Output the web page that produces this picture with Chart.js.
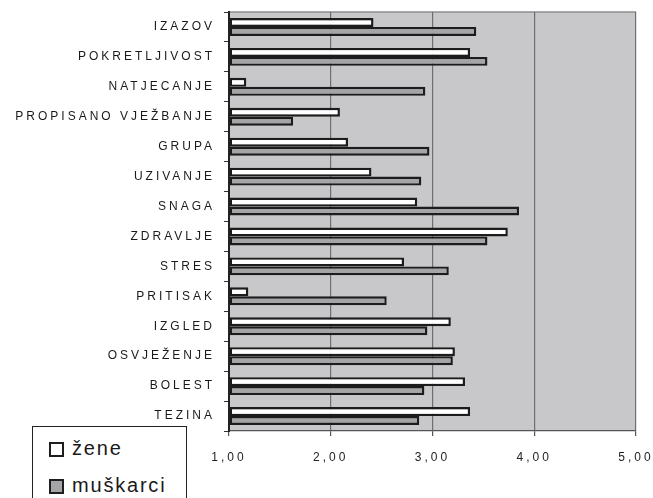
<!DOCTYPE html>
<html>
<head>
<meta charset="utf-8">
<script src="https://cdn.jsdelivr.net/npm/chart.js@4.4.1/dist/chart.umd.min.js"></script>
<style>
  html, body { margin: 0; padding: 0; background: #fff; }
  #wrap { position: relative; width: 653px; height: 498px; overflow: hidden; }
  #legend {
    position: absolute; left: 32px; top: 426px; width: 155px; height: 90px;
    border: 1.5px solid #222; box-sizing: border-box; background: #fff;
    font-family: "Liberation Sans", Arial, sans-serif; font-size: 20px; color: #1a1a1a;
    letter-spacing: 1.8px;
  }
  .item { position: absolute; left: 16px; height: 20px; line-height: 20px; white-space: nowrap; }
  .sw { position: absolute; left: 0; top: 2px; width: 15px; height: 15px; box-sizing: border-box; border: 2.5px solid #1e1e1e; }
  .lbl { position: absolute; left: 23px; top: -2px; }
</style>
</head>
<body>
<div id="wrap">
  <canvas id="c" width="653" height="498"></canvas>
  <div id="legend"></div>
</div>
<script>
const categories = ['IZAZOV', 'POKRETLJIVOST', 'NATJECANJE', 'PROPISANO VJEŽBANJE', 'GRUPA', 'UZIVANJE', 'SNAGA', 'ZDRAVLJE', 'STRES', 'PRITISAK', 'IZGLED', 'OSVJEŽENJE', 'BOLEST', 'TEZINA'];
const seriesNames = ['žene', 'muškarci'];
const zene = [2.42, 3.37, 1.17, 2.09, 2.17, 2.40, 2.85, 3.74, 2.72, 1.19, 3.18, 3.22, 3.32, 3.37];
const muskarci = [3.43, 3.54, 2.93, 1.63, 2.97, 2.89, 3.85, 3.54, 3.16, 2.55, 2.95, 3.20, 2.92, 2.87];
const xTickValues = [1, 2, 3, 4, 5];
const xTickLabels = ['1,00', '2,00', '3,00', '4,00', '5,00'];

const colors = ['#ffffff', '#a5a5a7'];

const plotBg = {
  id: 'plotBg',
  beforeDraw(chart) {
    const {ctx, chartArea: a} = chart;
    ctx.save();
    ctx.fillStyle = '#c8c8ca';
    ctx.fillRect(a.left, a.top, a.right - a.left, a.bottom - a.top);
    ctx.strokeStyle = '#8e8e90';
    ctx.lineWidth = 1.5;
    ctx.beginPath();
    ctx.moveTo(a.left, a.top);
    ctx.lineTo(a.right, a.top);
    ctx.stroke();
    ctx.restore();
    ctx.letterSpacing = '3px';
  }
};

new Chart(document.getElementById('c'), {
  type: 'bar',
  data: {
    labels: categories,
    datasets: [
      { label: seriesNames[0], data: zene, backgroundColor: colors[0] },
      { label: seriesNames[1], data: muskarci, backgroundColor: colors[1] }
    ]
  },
  options: {
    indexAxis: 'y',
    responsive: false,
    animation: false,
    devicePixelRatio: 1,
    layout: { padding: { top: 12, right: 17, left: 0, bottom: 0 } },
    datasets: {
      bar: {
        base: 1,
        borderColor: '#1c1c1c',
        borderWidth: 2.4,
        borderSkipped: false,
        categoryPercentage: 0.6,
        barPercentage: 1.0
      }
    },
    plugins: { legend: { display: false }, tooltip: { enabled: false } },
    scales: {
      x: {
        min: 1, max: 5,
        afterBuildTicks(scale) { scale.ticks = xTickValues.map(v => ({ value: v })); },
        afterFit(scale) { scale.height = 67; scale.paddingLeft = 0; scale.paddingRight = 0; },
        ticks: {
          callback: (v) => xTickLabels[xTickValues.indexOf(v)],
          color: '#222', padding: 14,
          font: { family: 'Liberation Sans', size: 12 }
        },
        grid: {
          color: (c) => (c.tick && c.tick.value === 1) ? '#2a2a2a' : '#6e6e70',
          lineWidth: 1.2,
          drawTicks: true, tickLength: 5, tickColor: '#555'
        },
        border: { color: '#555', width: 1.2 }
      },
      y: {
        afterFit(scale) { scale.width = 229; scale.paddingTop = 0; scale.paddingBottom = 0; },
        ticks: {
          color: '#1a1a1a', padding: 9,
          font: { family: 'Liberation Sans', size: 12 }
        },
        grid: {
          offset: true, drawOnChartArea: false, drawTicks: true,
          tickLength: 5, color: '#333'
        },
        border: { color: '#222', width: 2 }
      }
    }
  },
  plugins: [plotBg]
});

const lg = document.getElementById('legend');
seriesNames.forEach((name, i) => {
  const it = document.createElement('div');
  it.className = 'item';
  it.style.top = (13 + i * 37) + 'px';
  it.innerHTML = '<span class="sw" style="background:' + colors[i] + '"></span><span class="lbl"></span>';
  it.querySelector('.lbl').textContent = name;
  lg.appendChild(it);
});
</script>
</body>
</html>
